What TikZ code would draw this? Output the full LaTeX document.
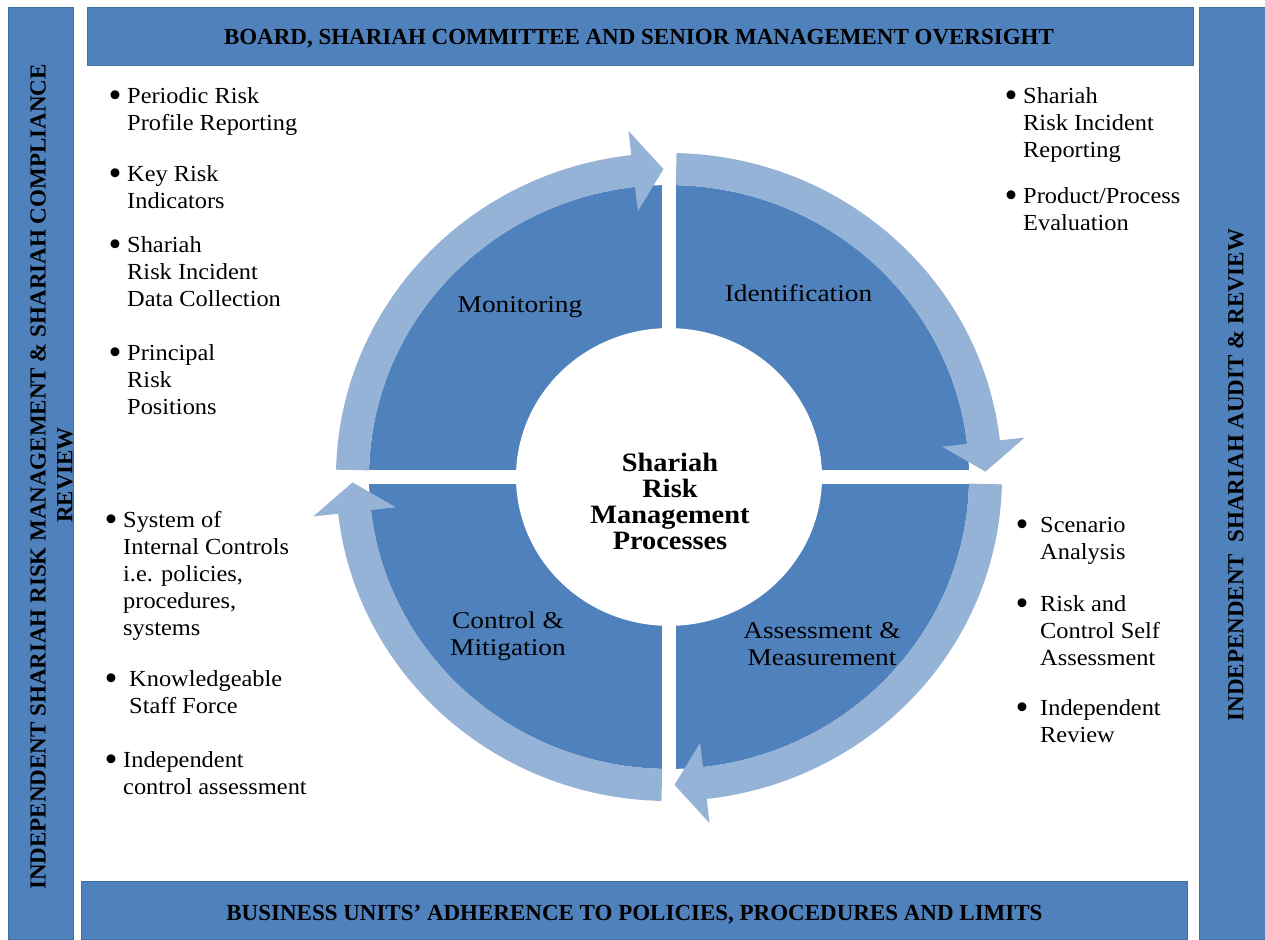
\documentclass[tikz,border=0pt]{standalone}
\usepackage{fontspec}
\setmainfont{Liberation Serif}
\definecolor{darkblue}{HTML}{4F81BD}
\definecolor{lightblue}{HTML}{95B3D7}
\definecolor{bannerline}{HTML}{41719C}
\newcommand\cyclearrow[3]{%
  \fill[lightblue] (#1:333) arc[start angle=#1, end angle=#2, radius=333]
    -- (#2:358) -- (#3:316.5) -- (#2:275) -- (#2:300)
    arc[start angle=#2, end angle=#1, radius=300] -- cycle;}
\tikzset{
  banner/.style={fill=darkblue, draw=bannerline, line width=0.8pt},
  bantext/.style={font=\bfseries\fontsize{23}{26}\selectfont, inner sep=0},
  itemtext/.style={anchor=base west, inner sep=0, xscale=1.06, font=\fontsize{23}{27}\selectfont},
  dot/.style={anchor=base, inner sep=0, yshift=-4pt, font=\fontsize{37}{37}\selectfont},
  seglabel/.style={anchor=base, inner sep=0, xscale=1.14, font=\fontsize{24}{27}\selectfont},
}
\begin{document}
\begin{tikzpicture}[x=1pt,y=-1pt]
\useasboundingbox (0,0) rectangle (1265,939);
% banners
\fill[white] (0,0) rectangle (1265,939);
\draw[banner] (8,7) rectangle (73,939);
\draw[banner] (1199,7) rectangle (1265,939);
\draw[banner] (87,7) rectangle (1193,65);
\draw[banner] (81,881) rectangle (1187,939);
\node[bantext, anchor=base] (top) at (639,45) {BOARD, SHARIAH COMMITTEE AND SENIOR MANAGEMENT OVERSIGHT};
\node[bantext, anchor=base] (bottom) at (634.5,920) {BUSINESS UNITS' ADHERENCE TO POLICIES, PROCEDURES AND LIMITS};
\node[bantext, rotate=90] (left1) at (38,477) {INDEPENDENT SHARIAH RISK MANAGEMENT \& SHARIAH COMPLIANCE};
\node[bantext, rotate=90] (left2) at (65,475) {REVIEW};
\node[bantext, rotate=90] (right) at (1236,475) {INDEPENDENT\ \ SHARIAH AUDIT \& REVIEW};
% cycle
\begin{scope}[shift={(669,477)}, yscale=-0.973]
  \fill[darkblue] (0,0) circle[radius=300];
  \fill[white] (-7,-345) rectangle (7,345);
  \fill[white] (-345,-7) rectangle (345,7);
  \fill[white] (0,0) circle[radius=153];
  \cyclearrow{178.7}{96.5}{91}
  \cyclearrow{88.7}{6.5}{1}
  \cyclearrow{-1.3}{-83.5}{-89}
  \cyclearrow{-91.3}{-173.5}{-179}
\end{scope}
\node[seglabel] (mon) at (520,312) {Monitoring};
\node[seglabel] (ide) at (798.5,301) {Identification};
\node[seglabel] (con) at (508,628) {\begin{tabular}[t]{@{}c@{}}Control \&\\Mitigation\end{tabular}};
\node[seglabel] (ass) at (822,638) {\begin{tabular}[t]{@{}c@{}}Assessment \&\\Measurement\end{tabular}};
\node[anchor=base, inner sep=0, xscale=1.07, font=\bfseries\fontsize{26.5}{26.3}\selectfont] (core) at (670,471)
  {\begin{tabular}[t]{@{}c@{}}Shariah\\Risk\\Management\\Processes\end{tabular}};
% left top
\node[dot] (d1) at (115,103) {\textbullet};
\node[itemtext] (t1) at (127,103) {\begin{tabular}[t]{@{}l@{}}Periodic Risk\\Profile Reporting\end{tabular}};
\node[dot] (d2) at (115,181) {\textbullet};
\node[itemtext] (t2) at (127,181) {\begin{tabular}[t]{@{}l@{}}Key Risk\\Indicators\end{tabular}};
\node[dot] (d3) at (115,252) {\textbullet};
\node[itemtext] (t3) at (127,252) {\begin{tabular}[t]{@{}l@{}}Shariah\\Risk Incident\\Data Collection\end{tabular}};
\node[dot] (d4) at (115,360) {\textbullet};
\node[itemtext] (t4) at (127,360) {\begin{tabular}[t]{@{}l@{}}Principal\\Risk\\Positions\end{tabular}};
% left bottom
\node[dot] (d5) at (111,527) {\textbullet};
\node[itemtext] (t5) at (123,527) {\begin{tabular}[t]{@{}l@{}}System of\\Internal Controls\\i.e. policies,\\procedures,\\systems\end{tabular}};
\node[dot] (d6) at (111,686) {\textbullet};
\node[itemtext] (t6) at (129,686) {\begin{tabular}[t]{@{}l@{}}Knowledgeable\\Staff Force\end{tabular}};
\node[dot] (d7) at (111,767) {\textbullet};
\node[itemtext] (t7) at (123,767) {\begin{tabular}[t]{@{}l@{}}Independent\\control assessment\end{tabular}};
% right top
\node[dot] (d8) at (1011,103) {\textbullet};
\node[itemtext] (t8) at (1023,103) {\begin{tabular}[t]{@{}l@{}}Shariah\\Risk Incident\\Reporting\end{tabular}};
\node[dot] (d9) at (1011,203) {\textbullet};
\node[itemtext] (t9) at (1023,203) {\begin{tabular}[t]{@{}l@{}}Product/Process\\Evaluation\end{tabular}};
% right bottom
\node[dot] (d10) at (1022,532) {\textbullet};
\node[itemtext] (t10) at (1040,532) {\begin{tabular}[t]{@{}l@{}}Scenario\\Analysis\end{tabular}};
\node[dot] (d11) at (1022,611) {\textbullet};
\node[itemtext] (t11) at (1040,611) {\begin{tabular}[t]{@{}l@{}}Risk and\\Control Self\\Assessment\end{tabular}};
\node[dot] (d12) at (1022,715) {\textbullet};
\node[itemtext] (t12) at (1040,715) {\begin{tabular}[t]{@{}l@{}}Independent\\Review\end{tabular}};
\end{tikzpicture}
\end{document}
